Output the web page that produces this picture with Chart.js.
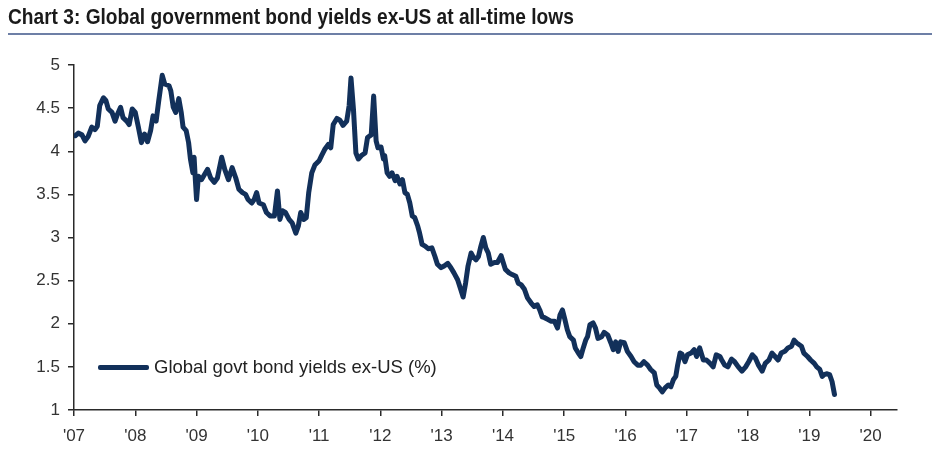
<!DOCTYPE html>
<html>
<head>
<meta charset="utf-8">
<script src="https://cdn.jsdelivr.net/npm/chart.js@4.4.1/dist/chart.umd.min.js"></script>
<style>
  html, body { margin: 0; padding: 0; background: #ffffff; }
  #wrap { position: relative; width: 940px; height: 461px; overflow: hidden; }
  #title {
    position: absolute; left: 8px; top: 4px;
    font-family: "Liberation Sans", Arial, sans-serif;
    font-weight: bold; font-size: 22px; color: #1a1a1a; white-space: nowrap;
    transform: scaleX(0.87); transform-origin: left top;
  }
  #rule { position: absolute; left: 8px; top: 33px; width: 924px; height: 2px; background: #6d7fa6; }
  #legend {
    position: absolute; left: 98px; top: 356px; height: 22px;
    display: flex; align-items: center;
    font-family: "Liberation Sans", Arial, sans-serif; font-size: 18.5px; color: #222;
  }
  #legend .swatch { width: 51px; height: 5px; background: #12305a; border-radius: 2px; margin-right: 5px; }
  #chartBox { position: absolute; left: 0; top: 0; width: 940px; height: 461px; }
</style>
</head>
<body>
<div id="wrap">
  <div id="chartBox"><canvas id="c"></canvas></div>
  <div id="title">Chart 3: Global government bond yields ex-US at all-time lows</div>
  <div id="rule"></div>
  <div id="legend"><span class="swatch"></span><span id="legendText"></span></div>
</div>
<script>
// ---- data (decimal years and yields in %) ----
const seriesName = "Global govt bond yields ex-US (%)";
const dates = [
  2007.02,2007.07,2007.13,2007.18,2007.23,2007.29,2007.34,2007.38,2007.42,2007.48,
  2007.52,2007.56,2007.62,2007.67,2007.71,2007.76,2007.80,2007.86,2007.90,2007.95,
  2008.00,2008.05,2008.10,2008.15,2008.20,2008.25,2008.29,2008.34,2008.38,2008.44,
  2008.48,2008.55,2008.58,2008.62,2008.66,2008.71,2008.75,2008.78,2008.83,2008.87,
  2008.90,2008.94,2008.96,2008.98,2009.00,2009.03,2009.08,2009.13,2009.18,2009.23,
  2009.29,2009.34,2009.41,2009.46,2009.52,2009.58,2009.64,2009.69,2009.75,2009.80,
  2009.84,2009.90,2009.94,2009.98,2010.02,2010.09,2010.14,2010.20,2010.27,2010.32,
  2010.36,2010.40,2010.45,2010.51,2010.56,2010.62,2010.66,2010.70,2010.75,2010.79,
  2010.83,2010.88,2010.93,2011.00,2011.04,2011.09,2011.15,2011.19,2011.23,2011.29,
  2011.34,2011.39,2011.45,2011.49,2011.52,2011.56,2011.60,2011.64,2011.69,2011.75,
  2011.79,2011.85,2011.89,2011.93,2011.96,2012.01,2012.05,2012.07,2012.11,2012.15,
  2012.19,2012.24,2012.27,2012.32,2012.36,2012.40,2012.44,2012.48,2012.52,2012.56,
  2012.61,2012.64,2012.68,2012.73,2012.78,2012.84,2012.89,2012.93,2012.99,2013.04,
  2013.10,2013.15,2013.20,2013.26,2013.31,2013.35,2013.39,2013.43,2013.48,2013.51,
  2013.56,2013.60,2013.64,2013.68,2013.72,2013.76,2013.80,2013.86,2013.91,2013.97,
  2014.00,2014.04,2014.10,2014.15,2014.21,2014.25,2014.30,2014.35,2014.40,2014.46,
  2014.51,2014.56,2014.60,2014.64,2014.68,2014.73,2014.78,2014.84,2014.89,2014.93,
  2014.97,2015.01,2015.05,2015.09,2015.15,2015.18,2015.23,2015.27,2015.31,2015.35,
  2015.38,2015.42,2015.47,2015.51,2015.55,2015.61,2015.65,2015.71,2015.76,2015.80,
  2015.84,2015.88,2015.92,2015.98,2016.03,2016.09,2016.14,2016.20,2016.25,2016.30,
  2016.36,2016.41,2016.47,2016.51,2016.56,2016.60,2016.65,2016.70,2016.74,2016.78,
  2016.82,2016.85,2016.89,2016.92,2016.97,2017.01,2017.07,2017.12,2017.16,2017.21,
  2017.27,2017.32,2017.38,2017.43,2017.48,2017.54,2017.57,2017.62,2017.67,2017.73,
  2017.78,2017.84,2017.90,2017.96,2018.01,2018.07,2018.12,2018.17,2018.23,2018.28,
  2018.34,2018.39,2018.44,2018.49,2018.54,2018.60,2018.65,2018.71,2018.75,2018.79,
  2018.83,2018.87,2018.91,2018.97,2019.02,2019.08,2019.12,2019.17,2019.21,2019.24,
  2019.28,2019.33,2019.37,2019.41
];
const yields = [
  4.18,4.21,4.19,4.12,4.17,4.28,4.25,4.29,4.53,4.62,
  4.59,4.49,4.45,4.35,4.43,4.51,4.39,4.35,4.31,4.49,
  4.45,4.28,4.10,4.20,4.11,4.24,4.41,4.35,4.57,4.88,
  4.78,4.76,4.70,4.51,4.45,4.61,4.45,4.28,4.24,4.10,
  3.91,3.75,3.93,3.67,3.44,3.71,3.67,3.73,3.79,3.69,
  3.64,3.69,3.93,3.79,3.67,3.81,3.69,3.56,3.52,3.50,
  3.44,3.40,3.44,3.52,3.40,3.38,3.29,3.25,3.25,3.54,
  3.21,3.31,3.29,3.21,3.17,3.05,3.13,3.29,3.21,3.23,
  3.52,3.75,3.84,3.89,3.95,4.02,4.08,4.04,4.31,4.38,
  4.36,4.30,4.35,4.53,4.85,4.49,3.98,3.91,3.95,3.98,
  4.16,4.19,4.64,4.12,4.04,4.05,3.91,3.95,3.75,3.71,
  3.75,3.66,3.71,3.62,3.67,3.52,3.50,3.40,3.25,3.23,
  3.13,3.05,2.92,2.90,2.87,2.88,2.78,2.69,2.65,2.67,
  2.70,2.65,2.59,2.51,2.40,2.31,2.47,2.67,2.82,2.78,
  2.74,2.78,2.90,3.00,2.88,2.82,2.69,2.71,2.71,2.79,
  2.72,2.63,2.59,2.57,2.55,2.47,2.45,2.40,2.30,2.24,
  2.20,2.22,2.16,2.08,2.07,2.05,2.03,2.03,1.95,2.10,
  2.16,2.05,1.93,1.85,1.81,1.72,1.66,1.62,1.72,1.81,
  1.85,1.99,2.01,1.95,1.83,1.85,1.90,1.87,1.78,1.70,
  1.79,1.68,1.79,1.78,1.68,1.62,1.56,1.52,1.52,1.56,
  1.52,1.47,1.43,1.29,1.25,1.21,1.26,1.29,1.27,1.35,
  1.39,1.52,1.66,1.65,1.56,1.64,1.66,1.70,1.62,1.72,
  1.58,1.58,1.54,1.50,1.64,1.62,1.58,1.52,1.50,1.59,
  1.56,1.50,1.45,1.50,1.56,1.64,1.60,1.52,1.45,1.54,
  1.58,1.66,1.62,1.58,1.66,1.68,1.72,1.74,1.81,1.78,
  1.76,1.74,1.66,1.62,1.58,1.54,1.50,1.47,1.39,1.41,
  1.42,1.41,1.33,1.18
];
const xTickYears = [2007,2008,2009,2010,2011,2012,2013,2014,2015,2016,2017,2018,2019,2020];
const yTickValues = [1,1.5,2,2.5,3,3.5,4,4.5,5];

document.getElementById('legendText').textContent = seriesName;

const points = dates.map((d, i) => ({ x: d, y: yields[i] }));
const axisColor = '#2a2a2a';
const tickFont = { family: '"Liberation Sans", Arial, sans-serif', size: 17 };

new Chart(document.getElementById('c'), {
  type: 'line',
  data: {
    datasets: [{
      label: seriesName,
      data: points,
      borderColor: '#12305a',
      borderWidth: 5,
      pointRadius: 0,
      tension: 0,
      borderJoinStyle: 'round',
      borderCapStyle: 'round',
      fill: false
    }]
  },
  options: {
    responsive: true,
    maintainAspectRatio: false,
    animation: false,
    layout: { padding: { top: 65, right: 43, left: 0, bottom: 0 } },
    plugins: { legend: { display: false }, tooltip: { enabled: false }, title: { display: false } },
    scales: {
      x: {
        type: 'linear',
        min: 2007,
        max: 2020.43,
        afterBuildTicks: (s) => { s.ticks = xTickYears.map(v => ({ value: v })); },
        afterFit: (s) => { s.height = 51; },
        ticks: {
          autoSkip: false, maxRotation: 0, padding: 10, color: '#333', font: tickFont,
          callback: (v) => "'" + String(v).slice(2)
        },
        grid: { display: true, drawOnChartArea: false, drawTicks: true, tickLength: 6, color: axisColor, lineWidth: 1.5 },
        border: { display: true, color: axisColor, width: 1.5 }
      },
      y: {
        type: 'linear',
        min: 1,
        max: 5,
        afterBuildTicks: (s) => { s.ticks = yTickValues.map(v => ({ value: v })); },
        afterFit: (s) => { s.width = 74; },
        ticks: { padding: 8, color: '#333', font: tickFont, callback: (v) => String(v) },
        grid: { display: true, drawOnChartArea: false, drawTicks: true, tickLength: 6, color: axisColor, lineWidth: 1.5 },
        border: { display: true, color: axisColor, width: 1.5 }
      }
    }
  }
});
</script>
</body>
</html>
